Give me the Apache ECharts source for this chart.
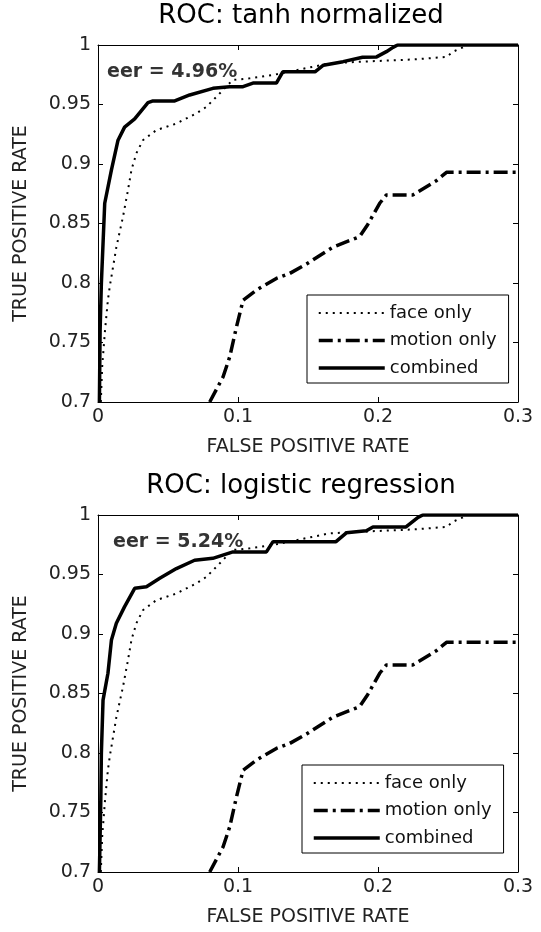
<!DOCTYPE html>
<html>
<head>
<meta charset="utf-8">
<title>ROC curves</title>
<script src="https://cdn.jsdelivr.net/npm/echarts@6/dist/echarts.min.js"></script>
<style>
  html, body { margin: 0; padding: 0; background: #fff; }
  #main { width: 541px; height: 932px; }
</style>
</head>
<body>
<div id="main"></div>
<script>
// face only - same curve in both panels
var faceFpr = [0.002, 0.003, 0.005, 0.007, 0.0084, 0.0131, 0.0179, 0.0214, 0.0239, 0.0274, 0.0321, 0.0417, 0.056, 0.0703, 0.0774, 0.0846, 0.0962, 0.1084, 0.125, 0.1655, 0.189, 0.2274, 0.249, 0.2536, 0.2607, 0.264, 0.3];
var faceTpr = [0.70, 0.73, 0.76, 0.785, 0.797, 0.830, 0.856, 0.878, 0.895, 0.909, 0.920, 0.9285, 0.934, 0.9426, 0.948, 0.9565, 0.9706, 0.972, 0.9748, 0.9846, 0.986, 0.988, 0.990, 0.9944, 0.998, 1, 1];

// motion only - same curve in both panels
var motionFpr = [0.0798, 0.0893, 0.0941, 0.0989, 0.1036, 0.1131, 0.1274, 0.1369, 0.1489, 0.1676, 0.1869, 0.1926, 0.2012, 0.206, 0.2248, 0.2417, 0.2489, 0.3];
var motionTpr = [0.70, 0.721, 0.738, 0.763, 0.7855, 0.794, 0.8038, 0.808, 0.816, 0.830, 0.839, 0.849, 0.867, 0.874, 0.874, 0.886, 0.893, 0.893];

// combined, tanh normalized
var tanhFpr = [0.001, 0.0015, 0.0024, 0.0048, 0.0096, 0.0143, 0.019, 0.0262, 0.0357, 0.0393, 0.0548, 0.0655, 0.0821, 0.094, 0.1036, 0.1107, 0.1274, 0.132, 0.155, 0.161, 0.175, 0.189, 0.199, 0.206, 0.2107, 0.214, 0.3];
var tanhTpr = [0.70, 0.76, 0.7996, 0.867, 0.895, 0.920, 0.931, 0.938, 0.9515, 0.953, 0.953, 0.958, 0.9636, 0.965, 0.965, 0.968, 0.968, 0.9775, 0.9775, 0.983, 0.986, 0.9897, 0.990, 0.9944, 0.998, 1, 1];

// combined, logistic regression
var logFpr = [0.001, 0.002, 0.0024, 0.0036, 0.0071, 0.0096, 0.0131, 0.019, 0.0262, 0.0346, 0.0441, 0.056, 0.069, 0.082, 0.0964, 0.1203, 0.125, 0.170, 0.1774, 0.1917, 0.1964, 0.220, 0.2286, 0.232, 0.3];
var logTpr = [0.70, 0.76, 0.7996, 0.8444, 0.867, 0.895, 0.909, 0.923, 0.9384, 0.9397, 0.9468, 0.955, 0.962, 0.9636, 0.969, 0.969, 0.9776, 0.9776, 0.985, 0.9868, 0.990, 0.990, 0.998, 1, 1];

var xTickLabels = ['0', '0.1', '0.2', '0.3'];
var yTickLabels = ['0.7', '0.75', '0.8', '0.85', '0.9', '0.95', '1'];
var panelTitles = ['ROC: tanh normalized', 'ROC: logistic regression'];
var eerTexts = ['eer = 4.96%', 'eer = 5.24%'];
var seriesNames = ['face only', 'motion only', 'combined'];

var FONT = '"DejaVu Sans", "Liberation Sans", sans-serif';
var dotted = [2, 5];
var dashDot = [14, 5, 3, 5];

function pairs(xs, ys) {
  return xs.map(function (x, i) { return [x, ys[i]]; });
}

var chart = echarts.init(document.getElementById('main'), null, { renderer: 'canvas' });

var grids = [], xAxes = [], yAxes = [], series = [], legends = [], graphics = [];
var combined = [pairs(tanhFpr, tanhTpr), pairs(logFpr, logTpr)];
var legendPos = [[307, 295], [302, 765]];
var eerX = [107, 113];
var noSymbol = { opacity: 0, color: 'transparent', borderWidth: 0 };

for (var p = 0; p < 2; p++) {
  var off = p * 470;
  grids.push({ left: 98, top: 45 + off, width: 420, height: 357 });

  // bottom x axis with labels, top one only for the box + ticks
  xAxes.push({
    gridIndex: p, type: 'value', min: 0, max: 0.3, interval: 0.1, position: 'bottom',
    name: 'FALSE POSITIVE RATE', nameLocation: 'middle', nameGap: 36,
    nameTextStyle: { fontFamily: FONT, fontSize: 19, color: '#222' },
    axisLine: { onZero: false, lineStyle: { color: '#000', width: 1 } },
    axisTick: { inside: true, length: 5, lineStyle: { color: '#000' } },
    axisLabel: { margin: 6, fontFamily: FONT, fontSize: 19, color: '#222',
      formatter: function (v, i) { return xTickLabels[i]; } },
    splitLine: { show: false }
  });
  xAxes.push({
    gridIndex: p, type: 'value', min: 0, max: 0.3, interval: 0.1, position: 'top',
    axisLine: { onZero: false, lineStyle: { color: '#000', width: 1 } },
    axisTick: { inside: true, length: 5, lineStyle: { color: '#000' } },
    axisLabel: { show: false }, splitLine: { show: false }
  });
  yAxes.push({
    gridIndex: p, type: 'value', min: 0.7, max: 1, interval: 0.05, position: 'left',
    name: 'TRUE POSITIVE RATE', nameLocation: 'middle', nameGap: 67, nameRotate: 90,
    nameTextStyle: { fontFamily: FONT, fontSize: 19, color: '#222' },
    axisLine: { onZero: false, lineStyle: { color: '#000', width: 1 } },
    axisTick: { inside: true, length: 5, lineStyle: { color: '#000' } },
    axisLabel: { margin: 7, fontFamily: FONT, fontSize: 19, color: '#222',
      formatter: function (v, i) { return yTickLabels[i]; } },
    splitLine: { show: false }
  });
  yAxes.push({
    gridIndex: p, type: 'value', min: 0.7, max: 1, interval: 0.05, position: 'right',
    axisLine: { onZero: false, lineStyle: { color: '#000', width: 1 } },
    axisTick: { inside: true, length: 5, lineStyle: { color: '#000' } },
    axisLabel: { show: false }, splitLine: { show: false }
  });

  var xi = p * 2, yi = p * 2;
  series.push({
    name: seriesNames[0], type: 'line', xAxisIndex: xi, yAxisIndex: yi,
    data: pairs(faceFpr, faceTpr), symbol: 'none', silent: true,
    itemStyle: { color: '#000' },
    lineStyle: { color: '#000', width: 2, type: dotted }
  });
  series.push({
    name: seriesNames[1], type: 'line', xAxisIndex: xi, yAxisIndex: yi,
    data: pairs(motionFpr, motionTpr), symbol: 'none', silent: true,
    itemStyle: { color: '#000' },
    lineStyle: { color: '#000', width: 3.5, type: dashDot }
  });
  series.push({
    name: seriesNames[2], type: 'line', xAxisIndex: xi, yAxisIndex: yi,
    data: combined[p], symbol: 'none', silent: true,
    itemStyle: { color: '#000' },
    lineStyle: { color: '#000', width: 3.5, type: 'solid' }
  });

  legends.push({
    orient: 'vertical', left: legendPos[p][0], top: legendPos[p][1],
    padding: [8, 12, 5, 10], itemGap: 7.5, itemWidth: 66, itemHeight: 14,
    backgroundColor: '#fff', borderColor: '#000', borderWidth: 1,
    selectedMode: false,
    textStyle: { fontFamily: FONT, fontSize: 18, color: '#111', lineHeight: 20 },
    data: [
      { name: seriesNames[0], itemStyle: noSymbol, lineStyle: { width: 2, type: dotted, color: '#000' } },
      { name: seriesNames[1], itemStyle: noSymbol, lineStyle: { width: 3.5, type: dashDot, color: '#000' } },
      { name: seriesNames[2], itemStyle: noSymbol, lineStyle: { width: 3.5, type: 'solid', color: '#000' } }
    ]
  });

  graphics.push({
    type: 'text', x: 301, y: 16 + off,
    style: { text: panelTitles[p], font: '26px ' + FONT, fill: '#000',
      align: 'center', verticalAlign: 'middle', textAlign: 'center', textVerticalAlign: 'middle' }
  });
  graphics.push({
    type: 'text', x: eerX[p], y: 72.5 + off,
    style: { text: eerTexts[p], font: 'bold 19px ' + FONT, fill: '#333',
      align: 'left', verticalAlign: 'middle', textAlign: 'left', textVerticalAlign: 'middle' }
  });
}

var option = {
  animation: false,
  backgroundColor: '#fff',
  grid: grids,
  xAxis: xAxes,
  yAxis: yAxes,
  legend: legends,
  series: series,
  graphic: graphics
};

option && chart.setOption(option);
</script>
</body>
</html>
